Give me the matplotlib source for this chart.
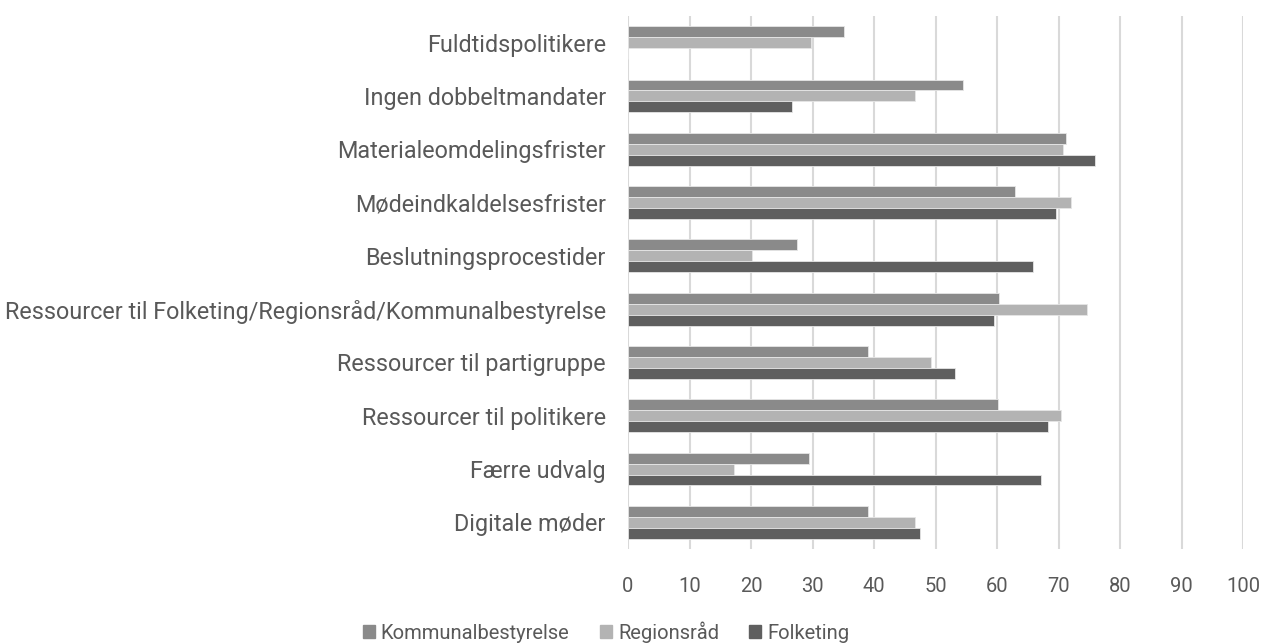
import matplotlib
matplotlib.use("Agg")
import matplotlib.pyplot as plt
from matplotlib.patches import Patch
import numpy as np

categories = [
    "Fuldtidspolitikere",
    "Ingen dobbeltmandater",
    "Materialeomdelingsfrister",
    "Mødeindkaldelsesfrister",
    "Beslutningsprocestider",
    "Ressourcer til Folketing/Regionsråd/Kommunalbestyrelse",
    "Ressourcer til partigruppe",
    "Ressourcer til politikere",
    "Færre udvalg",
    "Digitale møder",
]
kommunal = [35.2, 54.4, 71.2, 63.0, 27.5, 60.3, 39.1, 60.2, 29.5, 39.1]
region = [29.7, 46.7, 70.7, 72.0, 20.1, 74.7, 49.3, 70.4, 17.3, 46.7]
folketing = [0.0, 26.6, 75.9, 69.6, 65.8, 59.5, 53.2, 68.3, 67.2, 47.5]
series_names = ["Kommunalbestyrelse", "Regionsråd", "Folketing"]
colors = ["#8a8a8a", "#b3b3b3", "#5f5f5f"]
xticks = list(range(0, 101, 10))

plt.rcParams['font.family'] = ['Roboto', 'DejaVu Sans']
text_color = "#595959"

fig = plt.figure(figsize=(12.63, 6.43), dpi=100)
ax = fig.add_axes([628/1263, 1 - 549/643, (1243-628)/1263, (549-16)/643])

n = len(categories)
y = np.arange(n)
h = 0.205
for i, (vals, c) in enumerate(zip([kommunal, region, folketing], colors)):
    ax.barh(y + (i - 1) * h, vals, height=h, color=c, edgecolor="#e6e6e6", linewidth=0.6, zorder=3)

ax.set_ylim(n - 0.5, -0.5)
ax.set_xlim(0, 100)
ax.set_xticks(xticks)
ax.set_xticklabels([str(t) for t in xticks])
ax.set_yticks(y)
ax.set_yticklabels(categories, fontsize=16.8)
ax.xaxis.grid(True, color="#d9d9d9", linewidth=1.5, zorder=0)
ax.yaxis.grid(False)
for s in ["top", "right", "bottom", "left"]:
    ax.spines[s].set_visible(False)
ax.tick_params(axis="both", length=0, labelcolor=text_color)
ax.tick_params(axis="x", pad=20, labelsize=14.5)
ax.tick_params(axis="y", pad=16)

handles = [Patch(facecolor=c, edgecolor=c) for c in colors]
fig.legend(handles, series_names, loc="center", bbox_to_anchor=(606/1263, 1 - 632/643),
           ncol=3, frameon=False, fontsize=14.5, labelcolor=text_color,
           handlelength=0.6, handleheight=0.6, handletextpad=0.3, columnspacing=1.5,
           borderpad=0)

fig.savefig("out.png", dpi=100)
